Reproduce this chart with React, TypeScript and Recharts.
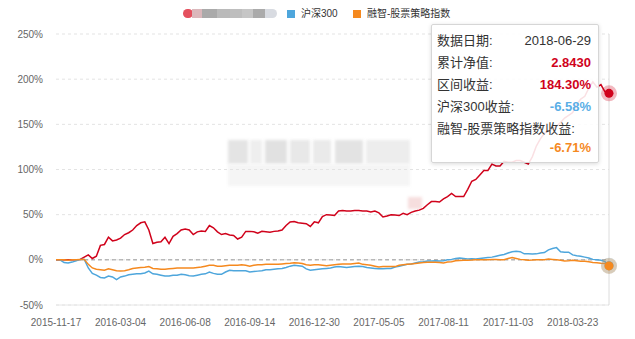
import React from 'react';
import { LineChart, Line, XAxis, YAxis, CartesianGrid, Tooltip, ReferenceLine } from 'recharts';

// dates printed on the x axis, plus the last point shown in the tooltip
const tickDates = [
  '2015-11-17', '2016-03-04', '2016-06-08', '2016-09-14', '2016-12-30',
  '2017-05-05', '2017-08-11', '2017-11-03', '2018-03-23', '2018-06-29',
];
const tickIndex = [0, 16, 32, 48, 64, 80, 96, 112, 128, 137];

// cumulative return (%) of the fund
const fundReturn = [
  0, 0, 0, 0, 0, 0, 0.5, 3, 5.5, 1.5,
  4, 16, 17, 25, 21, 22, 24, 28, 30, 33,
  38, 41, 42, 33, 18, 19.5, 20, 25, 18, 26,
  29, 33, 34, 33, 28, 31, 32, 31.5, 38, 35.5,
  31, 28, 29, 27.5, 27, 23, 25, 31.5, 31.5, 31,
  29.5, 31.5, 31, 30.5, 31.5, 32, 33, 38, 42, 42.5,
  41, 40.5, 40, 37, 42, 41, 48, 50, 49.5, 49,
  54, 54.6, 54, 54, 54.5, 54.5, 54, 54, 53, 54,
  52, 47.5, 48.5, 50, 49.5, 49, 51.5, 50, 52.5, 54,
  55, 57, 61, 64.5, 64.5, 64, 67.5, 70, 73.5, 70,
  70, 70, 78, 87, 89, 94, 99, 99, 106, 104,
  104, 109, 108, 108, 110, 110, 108, 106, 114, 126,
  134, 140, 143, 145, 148, 152, 157, 160, 163, 172,
  178, 181, 190, 197, 191, 194, 186, 184.3,
];

// 沪深300 return (%)
const hs300Return = [
  0, 0, -3, -3.5, -2.5, -1, 0.5, 0.5, -9, -15,
  -17, -19.5, -20, -18, -19, -22, -19, -18, -16.5, -16,
  -15.5, -15.5, -14.5, -12.5, -15.5, -16, -17, -18, -18, -17,
  -17, -16, -16.5, -17.5, -18, -17, -16, -15.5, -13.5, -15,
  -16, -16, -13.5, -11.5, -12, -12, -12, -12, -13.5, -13,
  -12.5, -12, -11, -11, -10.5, -10, -9.5, -8.5, -7, -6,
  -6.5, -7, -10, -11.5, -11, -10.5, -10, -9.5, -9, -8,
  -7.5, -8, -8.5, -8, -7.5, -7, -7.5, -8.5, -9, -9.5,
  -10, -10, -9.5, -9.5, -8, -7, -6, -5, -4.5, -3.5,
  -2.5, -2, -1.3, -1.2, -1, -1.2, -1, 0, 0.5, 1.5,
  2, 1.5, 1, 1.2, 1, 1.5, 2, 2.5, 3, 4,
  5, 6, 7.5, 9, 9.5, 9, 6.6, 6.6, 6.5, 6.6,
  7.5, 8, 11, 12.5, 13.5, 9, 8.5, 8.5, 5.5, 4.5,
  4, 3, 2, 0.5, 0, -0.5, -2, -6.58,
];

// 融智-股票策略指数 return (%)
const indexReturn = [
  0, 0, 0, -0.5, 0, 0, 0.5, 0.5, -5, -9,
  -10.5, -11, -11.5, -10, -11, -12, -12.3, -12, -11, -9.5,
  -9, -8.5, -8.3, -7.5, -9.5, -10, -10.5, -10.5, -10, -9.5,
  -9, -9, -9, -9, -9, -8.5, -8, -7, -6, -6,
  -7, -7, -6.5, -6, -6, -6, -5.5, -6, -7, -6,
  -5.5, -5.5, -5, -5, -5, -5, -4.5, -4, -3.7, -3.3,
  -3.5, -4, -5.5, -6, -5.5, -5.5, -6, -6.5, -6, -5.5,
  -5, -4.5, -4.5, -4.5, -4, -3.5, -5, -5.5, -6, -7,
  -8, -7.5, -7.5, -7.5, -7.5, -6, -5.5, -5, -4.5, -4,
  -3.5, -3, -2.7, -2.7, -2.7, -3, -3.5, -2.5, -2, -1,
  -0.7, -0.5, -0.5, -0.3, 0, 0, 0, 0.2, 0.5, 0.5,
  0.2, 0, 1.5, 2.5, 1.5, 0.5, 0, -0.5, -0.3, 0,
  0, 0.2, 0.8, 0.5, 0, -0.5, -1.2, -1, -0.5, -1,
  -1.5, -1.7, -2.2, -3, -3.3, -3.7, -4, -6.71,
];

const yTicks = [-50, 0, 50, 100, 150, 200, 250];

const RED = '#d0021b';
const BLUE = '#4ea6dc';
const ORANGE = '#f5891f';
const FONT = 'Arial, "Liberation Sans", "Noto Sans CJK SC", sans-serif';

// fill the dates between the labelled ones so every point has a category
function buildDates(): string[] {
  const out: string[] = [];
  for (let s = 0; s < tickDates.length - 1; s++) {
    const a = new Date(tickDates[s] + 'T00:00:00Z').getTime();
    const b = new Date(tickDates[s + 1] + 'T00:00:00Z').getTime();
    const n = tickIndex[s + 1] - tickIndex[s];
    for (let k = 0; k < n; k++) {
      const t = a + Math.round(((b - a) / 86400000) * (k / n)) * 86400000;
      out.push(new Date(t).toISOString().slice(0, 10));
    }
  }
  out.push(tickDates[tickDates.length - 1]);
  return out;
}

const dates = buildDates();
const data = dates.map((date, i) => ({
  date,
  fund: fundReturn[i],
  hs300: hs300Return[i],
  index: indexReturn[i],
}));

const pct = (v: number) => v.toFixed(2) + '%';

function TipBox({ active, payload }: any) {
  if (!active || !payload || !payload.length) return null;
  const row = payload[0].payload;
  const line = { display: 'flex', justifyContent: 'space-between', height: 22, lineHeight: '22px' };
  return (
    <div style={{
      width: 168, height: 139, boxSizing: 'border-box', background: 'rgba(255,255,255,0.88)',
      border: '1px solid #d6d6d6', borderRadius: 2, boxShadow: '0 1px 4px rgba(0,0,0,0.15)',
      padding: '5px 7px 0 5px', fontSize: 13, color: '#333', fontFamily: FONT,
    }}>
      <div style={line}><span>数据日期:</span><span>{row.date}</span></div>
      <div style={line}><span>累计净值:</span><span style={{ color: RED, fontWeight: 'bold' }}>{(1 + row.fund / 100).toFixed(4)}</span></div>
      <div style={line}><span>区间收益:</span><span style={{ color: RED, fontWeight: 'bold' }}>{pct(row.fund)}</span></div>
      <div style={line}><span>沪深300收益:</span><span style={{ color: '#5aaee6', fontWeight: 'bold' }}>{pct(row.hs300)}</span></div>
      <div style={line}><span>融智-股票策略指数收益:</span></div>
      <div style={{ textAlign: 'right', lineHeight: '15px', color: ORANGE, fontWeight: 'bold' }}>{pct(row.index)}</div>
    </div>
  );
}

const activeDot = (color: string) => (props: any) => (
  <g>
    <circle cx={props.cx} cy={props.cy} r={8} fill={color} fillOpacity={0.28} />
    <circle cx={props.cx} cy={props.cy} r={4.5} fill={color} />
  </g>
);

// the blurred-out fund name and watermark of the original
const nameBlocks = [
  { x: 192, w: 10, c: '#dbb7bb' }, { x: 202, w: 15, c: '#aaaaaa' }, { x: 217, w: 13, c: '#bababa' },
  { x: 230, w: 12, c: '#bebebe' }, { x: 242, w: 11, c: '#c6c6c6' }, { x: 253, w: 12, c: '#ababab' },
  { x: 265, w: 12, c: '#d8dbe1' },
];
const markBlocks = [
  { x: 228, y: 140, w: 20, h: 24, c: '#e4e4e4' }, { x: 250, y: 140, w: 12, h: 24, c: '#eeeeee' },
  { x: 265, y: 140, w: 22, h: 24, c: '#e1e1e1' }, { x: 290, y: 140, w: 20, h: 24, c: '#e8e8e8' },
  { x: 313, y: 140, w: 18, h: 24, c: '#eaeaea' }, { x: 335, y: 140, w: 28, h: 24, c: '#e3e3e3' },
  { x: 366, y: 140, w: 44, h: 24, c: '#ededed' }, { x: 228, y: 164, w: 182, h: 22, c: '#f5f5f5' },
  { x: 408, y: 197, w: 14, h: 12, c: '#f6dede' },
];

export default function App() {
  return (
    <div style={{ position: 'absolute', left: 0, top: 0, width: 635, height: 339, background: '#fff', fontFamily: FONT }}>
      {markBlocks.map((b, i) => (
        <div key={'m' + i} style={{ position: 'absolute', left: b.x, top: b.y, width: b.w, height: b.h, background: b.c, filter: 'blur(1.5px)' }} />
      ))}
      <div style={{ position: 'absolute', left: 183, top: 9, width: 10, height: 9, borderRadius: 5, background: '#e4505e' }} />
      {nameBlocks.map((b, i) => (
        <div key={'n' + i} style={{ position: 'absolute', left: b.x, top: 9, width: b.w, height: 9, background: b.c, borderRadius: i === nameBlocks.length - 1 ? '0 5px 5px 0' : 0 }} />
      ))}
      <div style={{ position: 'absolute', left: 287, top: 10, width: 8, height: 8, background: BLUE }} />
      <div style={{ position: 'absolute', left: 301, top: 7, fontSize: 10, lineHeight: '14px', color: '#333' }}>沪深300</div>
      <div style={{ position: 'absolute', left: 353, top: 10, width: 8, height: 8, background: ORANGE }} />
      <div style={{ position: 'absolute', left: 367, top: 7, fontSize: 10, lineHeight: '14px', color: '#333' }}>融智-股票策略指数</div>

      <LineChart width={635} height={339} data={data} margin={{ top: 34, right: 26, bottom: 4, left: 0 }}>
        <CartesianGrid horizontal vertical={false} stroke="#e3e3e3" strokeDasharray="3 3" />
        <XAxis
          dataKey="date"
          interval={15}
          axisLine={{ stroke: '#e6e6e6' }}
          tickLine={false}
          tickMargin={8}
          height={30}
          tick={{ fontSize: 10, fill: '#666', fontFamily: FONT }}
        />
        <YAxis
          domain={[-50, 250]}
          ticks={yTicks}
          width={56}
          axisLine={false}
          tickLine={false}
          tickMargin={7}
          tickFormatter={(v: number) => v + '%'}
          tick={{ fontSize: 10, fill: '#666', fontFamily: FONT }}
        />
        <ReferenceLine y={0} stroke="#999" strokeDasharray="4 3" />
        <Tooltip
          content={<TipBox />}
          active
          defaultIndex={137}
          position={{ x: 431, y: 24 }}
          cursor={{ stroke: '#dcdcdc', strokeWidth: 1 }}
          isAnimationActive={false}
        />
        <Line type="linear" dataKey="fund" name="基金" stroke={RED} strokeWidth={1.5} dot={false} activeDot={activeDot(RED)} isAnimationActive={false} />
        <Line type="linear" dataKey="hs300" name="沪深300" stroke={BLUE} strokeWidth={1.5} dot={false} activeDot={activeDot(BLUE)} isAnimationActive={false} />
        <Line type="linear" dataKey="index" name="融智-股票策略指数" stroke={ORANGE} strokeWidth={1.5} dot={false} activeDot={activeDot(ORANGE)} isAnimationActive={false} />
      </LineChart>
    </div>
  );
}
